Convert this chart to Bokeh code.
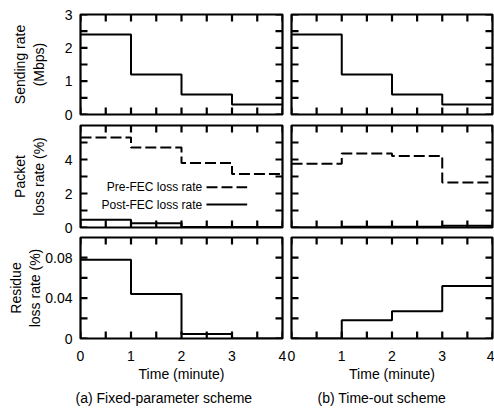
import numpy as np
from bokeh.plotting import figure
from bokeh.layouts import gridplot
from bokeh.models import LinearAxis, FixedTicker, Range1d, Label, Title
from bokeh.embed import file_html
from bokeh.resources import INLINE

# ---------------- data ----------------
minutes = [0, 1, 2, 3, 4]
x_ticks = [0, 1, 2, 3, 4]
x_minor = [0.5, 1.5, 2.5, 3.5]

rate_fixed = [2.4, 1.2, 0.6, 0.3]
rate_timeout = [2.4, 1.2, 0.6, 0.3]

pre_fec_fixed = [5.3, 4.7, 3.8, 3.15]
post_fec_fixed = [0.45, 0.25, 0.03, 0.03]
pre_fec_timeout = [3.75, 4.35, 4.2, 2.65]
post_fec_timeout = [0.0, 0.05, 0.05, 0.1]

residue_fixed = [0.078, 0.044, 0.0045, 0.0]
residue_timeout = [0.0, 0.018, 0.027, 0.052]

rate_ticks, rate_minor = [0, 1, 2, 3], [0.5, 1.5, 2.5]
loss_ticks, loss_minor = [0, 2, 4], [1, 3, 5]
res_ticks, res_minor = [0, 0.04, 0.08], [0.02, 0.06]

FONT = "Liberation Sans"
DASH = "11 4"
TICK_PX = 7


def label_axis(ax, ticker, standoff):
    ax.ticker = ticker
    ax.axis_line_color = None
    ax.major_tick_in = 0
    ax.major_tick_out = 0
    ax.minor_tick_in = 0
    ax.minor_tick_out = 0
    ax.major_label_text_font = FONT
    ax.major_label_text_font_size = "14px"
    ax.major_label_text_color = "black"
    ax.major_label_standoff = standoff
    ax.axis_label_text_font = FONT
    ax.axis_label_text_font_style = "normal"
    ax.axis_label_text_font_size = "14px"
    ax.axis_label_text_color = "black"


def panel(left, row_i, yr, yt, ym, ylab=None, ylab_standoff=10):
    fw = 202 if left else 201
    fh = [100, 102, 101][row_i]
    tops = [14, 2, 2]
    bottoms = [9, 8, 70]
    p = figure(
        frame_width=fw, frame_height=fh,
        x_range=Range1d(0, 4), y_range=Range1d(*yr),
        output_backend="svg", toolbar_location=None,
        min_border_left=80 if left else 5,
        min_border_right=4 if left else 2,
        min_border_top=tops[row_i], min_border_bottom=bottoms[row_i],
        x_axis_type=None, y_axis_type=None,
    )
    p.grid.visible = False
    p.outline_line_color = "black"
    p.outline_line_width = 2.2

    if left:
        yb = LinearAxis()
        label_axis(yb, FixedTicker(ticks=yt, minor_ticks=ym), 8)
        yb.axis_label = ylab
        yb.axis_label_standoff = ylab_standoff
        p.add_layout(yb, "left")
    else:
        yb = None
    if row_i == 2:
        xb = LinearAxis()
        label_axis(xb, FixedTicker(ticks=x_ticks, minor_ticks=x_minor), 12)
        xb.axis_label = "Time (minute)"
        xb.axis_label_standoff = 2
        p.add_layout(xb, "below")
    return p, yb, fw, fh


def add_ticks(p, yr, yt, ym, fw, fh):
    # inward tick marks on all four sides
    xt = [float(v) for v in x_ticks + x_minor]
    ytk = [float(v) for v in yt + ym]
    dx = TICK_PX * 4.0 / fw
    dy = TICK_PX * (yr[1] - yr[0]) / fh
    lo, hi = yr
    p.segment(xt, [lo] * len(xt), xt, [lo + dy] * len(xt),
              line_color="black", line_width=2.2)
    p.segment(xt, [hi] * len(xt), xt, [hi - dy] * len(xt),
              line_color="black", line_width=2.2)
    p.segment([0.0] * len(ytk), ytk, [dx] * len(ytk), ytk,
              line_color="black", line_width=2.2)
    p.segment([4.0] * len(ytk), ytk, [4.0 - dx] * len(ytk), ytk,
              line_color="black", line_width=2.2)


def stepline(p, vals, dash="solid"):
    p.step(minutes, list(vals) + [vals[-1]], mode="after",
           line_color="black", line_width=2, line_dash=dash)


# Row 1: sending rate
p11, a11, w11, h11 = panel(True, 0, (0, 3), rate_ticks, rate_minor,
                           "Sending rate\n(Mbps)", 15)
p12, _, w12, h12 = panel(False, 0, (0, 3), rate_ticks, rate_minor)
stepline(p11, rate_fixed)
stepline(p12, rate_timeout)
add_ticks(p11, (0, 3), rate_ticks, rate_minor, w11, h11)
add_ticks(p12, (0, 3), rate_ticks, rate_minor, w12, h12)

# Row 2: packet loss
p21, a21, w21, h21 = panel(True, 1, (0, 6), loss_ticks, loss_minor,
                           "Packet\nloss rate (%)", 15)
p22, _, w22, h22 = panel(False, 1, (0, 6), loss_ticks, loss_minor)
stepline(p21, pre_fec_fixed, DASH)
stepline(p21, post_fec_fixed)
stepline(p22, pre_fec_timeout, DASH)
stepline(p22, post_fec_timeout)
add_ticks(p21, (0, 6), loss_ticks, loss_minor, w21, h21)
add_ticks(p22, (0, 6), loss_ticks, loss_minor, w22, h22)

# legend (text left of sample)
leg_x_text, leg_x0, leg_x1 = 2.41, 2.495, 3.30
leg_rows = [("Pre-FEC loss rate", DASH, 2.37), ("Post-FEC loss rate", "solid", 1.35)]
for txt, dsh, ly in leg_rows:
    p21.add_layout(Label(x=leg_x_text, y=ly, text=txt, text_align="right",
                         text_baseline="middle", text_font=FONT,
                         text_font_size="12px", text_color="black"))
    p21.line([leg_x0, leg_x1], [ly, ly], line_color="black", line_width=2,
             line_dash=dsh)

# Row 3: residue loss
p31, a31, w31, h31 = panel(True, 2, (0, 0.1), res_ticks, res_minor,
                           "Residue\nloss rate (%)", -1)
p32, _, w32, h32 = panel(False, 2, (0, 0.1), res_ticks, res_minor)
a31.major_label_overrides = {0: "0"}
stepline(p31, residue_fixed)
stepline(p32, residue_timeout)
add_ticks(p31, (0, 0.1), res_ticks, res_minor, w31, h31)
add_ticks(p32, (0, 0.1), res_ticks, res_minor, w32, h32)

for p, txt, off in [(p31, "(a) Fixed-parameter scheme", -5),
                    (p32, "(b) Time-out scheme", 26)]:
    p.add_layout(Title(text=txt, align="left", offset=off, standoff=6,
                       text_font=FONT, text_font_size="14px",
                       text_font_style="normal", text_color="black"), "below")

grid = gridplot([[p11, p12], [p21, p22], [p31, p32]], toolbar_location=None)

open("out.html", "w").write(file_html(grid, INLINE))
